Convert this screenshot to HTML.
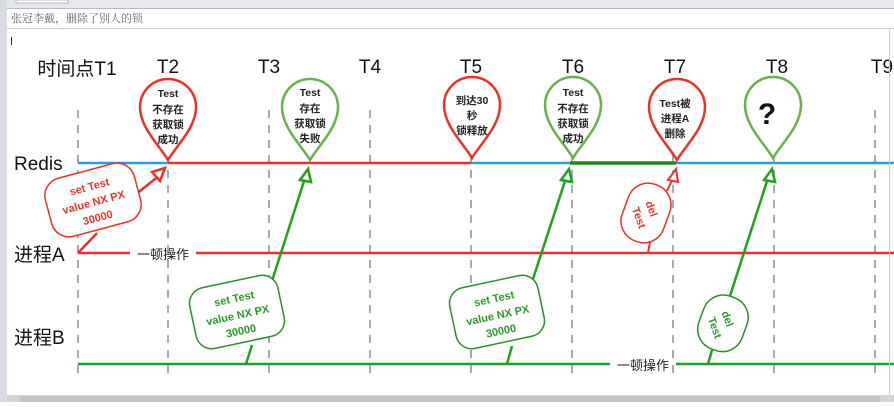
<!DOCTYPE html>
<html><head><meta charset="utf-8"><style>
body{margin:0;width:894px;height:402px;overflow:hidden;background:#fff;font-family:"Liberation Sans","Noto Sans CJK SC",sans-serif}
</style></head><body>
<svg width="894" height="402" viewBox="0 0 894 402" xmlns="http://www.w3.org/2000/svg" font-family="Liberation Sans, Noto Sans CJK SC, sans-serif">
<rect x="0" y="0" width="894" height="402" fill="#fff"/>
<rect x="0" y="0" width="894" height="8" fill="#e6e8ea"/>
<rect x="16" y="0" width="52" height="3" fill="#fff" stroke="#bbb"/>
<rect x="0" y="0" width="7" height="402" fill="#d8dce2"/>
<line x1="7" y1="8.5" x2="894" y2="8.5" stroke="#b0bccb"/>
<line x1="7" y1="28.5" x2="894" y2="28.5" stroke="#c8ccd2"/>
<text x="11" y="22" font-size="11" fill="#666" font-family="Noto Serif CJK SC, serif">张冠李戴，删除了别人的锁</text>
<line x1="11.5" y1="37" x2="11.5" y2="45" stroke="#333"/>
<rect x="7" y="395" width="887" height="7" fill="#d4d4d4"/>
<rect x="20" y="396" width="860" height="6" fill="#c4c4c4"/>

<g stroke="#aaa" stroke-width="2" stroke-dasharray="8,7">
<line x1="78" y1="110" x2="78" y2="378"/><line x1="168" y1="110" x2="168" y2="378"/>
<line x1="269" y1="110" x2="269" y2="378"/><line x1="370" y1="110" x2="370" y2="378"/>
<line x1="471" y1="110" x2="471" y2="378"/><line x1="572" y1="110" x2="572" y2="378"/>
<line x1="673" y1="110" x2="673" y2="378"/><line x1="774" y1="110" x2="774" y2="378"/>
<line x1="875" y1="110" x2="875" y2="378"/>
</g>

<g font-size="19" fill="#111" text-anchor="middle">
<text x="77" y="75">时间点T1</text>
<text x="168" y="73">T2</text><text x="269" y="73">T3</text><text x="370" y="73">T4</text>
<text x="471" y="73">T5</text><text x="573" y="73">T6</text><text x="675" y="73">T7</text>
<text x="777" y="73">T8</text><text x="882" y="73">T9</text>
</g>
<g font-size="19" fill="#111">
<text x="14" y="170">Redis</text>
<text x="14" y="261">进程A</text>
<text x="14" y="344">进程B</text>
</g>

<line x1="78" y1="163" x2="168" y2="163" stroke="#2a9be0" stroke-width="2.5"/>
<line x1="168" y1="163" x2="471" y2="163" stroke="#e8332a" stroke-width="2.5"/>
<line x1="471" y1="163" x2="894" y2="163" stroke="#2a9be0" stroke-width="2.5"/>
<line x1="570" y1="163" x2="676" y2="163" stroke="#1e8a1e" stroke-width="3.5"/>

<line x1="78" y1="253" x2="130" y2="253" stroke="#e8332a" stroke-width="2.5"/>
<line x1="196" y1="253" x2="894" y2="253" stroke="#e8332a" stroke-width="2.5"/>
<text x="163" y="259" font-size="13" fill="#222" text-anchor="middle">一顿操作</text>
<line x1="78" y1="364" x2="610" y2="364" stroke="#22a022" stroke-width="2.5"/>
<line x1="676" y1="364" x2="894" y2="364" stroke="#22a022" stroke-width="2.5"/>
<text x="643" y="370" font-size="13" fill="#222" text-anchor="middle">一顿操作</text>

<defs>
<path id="pin" d="M0 0 C-8 -14 -28 -32 -28 -53 A28 28 0 1 1 28 -53 C28 -32 8 -14 0 0 Z"/>
</defs>
<g fill="#fff" stroke-width="2.5">
<use href="#pin" x="168" y="160" stroke="#e8332a"/>
<use href="#pin" x="310" y="160" stroke="#6ab04c"/>
<use href="#pin" x="472" y="158" stroke="#e8332a"/>
<use href="#pin" x="573" y="158" stroke="#6ab04c"/>
<use href="#pin" x="677" y="160" stroke="#e8332a"/>
<use href="#pin" x="773" y="158" stroke="#6ab04c"/>
</g>
<g font-size="10.5" font-weight="bold" fill="#222" text-anchor="middle">
<text x="168" y="97">Test</text><text x="168" y="113">不存在</text><text x="168" y="128">获取锁</text><text x="168" y="143">成功</text>
<text x="310" y="96">Test</text><text x="310" y="112">存在</text><text x="310" y="127">获取锁</text><text x="310" y="142">失败</text>
<text x="472" y="104">到达30</text><text x="472" y="119">秒</text><text x="472" y="134">锁释放</text>
<text x="573" y="96">Test</text><text x="573" y="112">不存在</text><text x="573" y="127">获取锁</text><text x="573" y="142">成功</text>
<text x="675" y="107">Test被</text><text x="675" y="122">进程A</text><text x="675" y="137">删除</text>
</g>
<text x="767" y="124" font-size="30" font-weight="bold" fill="#111" text-anchor="middle">?</text>

<g stroke="#e8332a" stroke-width="2.5" fill="none">
<polyline points="78,253 97,233"/>
<line x1="135" y1="195" x2="160" y2="175"/>
<polygon points="165,168 152,172 160,181" fill="#fff"/>
</g>
<g transform="translate(93,200) rotate(-15)">
<rect x="-46" y="-30" width="92" height="60" rx="18" fill="#fff" stroke="#e8332a" stroke-width="1.5"/>
<g font-size="11" font-weight="bold" fill="#e8332a" text-anchor="middle">
<text x="0" y="-10">set  Test</text><text x="0" y="6">value NX  PX</text><text x="0" y="22">30000</text></g>
</g>

<g stroke="#22a022" stroke-width="2.5" fill="none">
<line x1="246" y1="364" x2="252" y2="345"/>
<line x1="272" y1="281" x2="305" y2="178"/>
<polygon points="308,169 300,180 311,182" fill="#fff"/>
</g>
<g transform="translate(237,312) rotate(-12)">
<rect x="-45" y="-31" width="90" height="62" rx="16" fill="#fff" stroke="#2e8b2e" stroke-width="1.5"/>
<g font-size="11" font-weight="bold" fill="#2a9a2a" text-anchor="middle">
<text x="0" y="-10">set  Test</text><text x="0" y="7">value NX  PX</text><text x="0" y="23">30000</text></g>
</g>

<g stroke="#22a022" stroke-width="2.5" fill="none">
<line x1="507" y1="364" x2="512" y2="346"/>
<line x1="532" y1="282" x2="566" y2="178"/>
<polygon points="569,169 561,180 572,182" fill="#fff"/>
</g>
<g transform="translate(497,312) rotate(-12)">
<rect x="-45" y="-31" width="90" height="62" rx="16" fill="#fff" stroke="#2e8b2e" stroke-width="1.5"/>
<g font-size="11" font-weight="bold" fill="#2a9a2a" text-anchor="middle">
<text x="0" y="-10">set  Test</text><text x="0" y="7">value NX  PX</text><text x="0" y="23">30000</text></g>
</g>

<g stroke="#e8332a" stroke-width="2" fill="none">
<line x1="648" y1="253" x2="650" y2="242"/>
<line x1="667" y1="191" x2="673" y2="178"/>
<polygon points="676,169 668,180 678,182" fill="#fff"/>
</g>
<g transform="translate(646,213) rotate(20)">
<rect x="-22" y="-30" width="44" height="60" rx="21" fill="#fff" stroke="#e8332a" stroke-width="1.5"/>
<g font-size="11" font-weight="bold" fill="#e8332a" text-anchor="middle" transform="rotate(50)">
<text x="-2" y="-3">del</text><text x="2" y="12">Test</text></g>
</g>

<g stroke="#22a022" stroke-width="2.5" fill="none">
<line x1="708" y1="364" x2="712" y2="350"/>
<line x1="730" y1="296" x2="768" y2="178"/>
<polygon points="772,169 764,180 775,182" fill="#fff"/>
</g>
<g transform="translate(722,323) rotate(20)">
<rect x="-22" y="-28" width="46" height="56" rx="21" fill="#fff" stroke="#2e8b2e" stroke-width="1.5"/>
<g font-size="11" font-weight="bold" fill="#2a9a2a" text-anchor="middle" transform="rotate(50)">
<text x="-2" y="-3">del</text><text x="2" y="12">Test</text></g>
</g>
<line x1="889.5" y1="29" x2="889.5" y2="395" stroke="#c8ccd2"/>
</svg>
</body></html>
